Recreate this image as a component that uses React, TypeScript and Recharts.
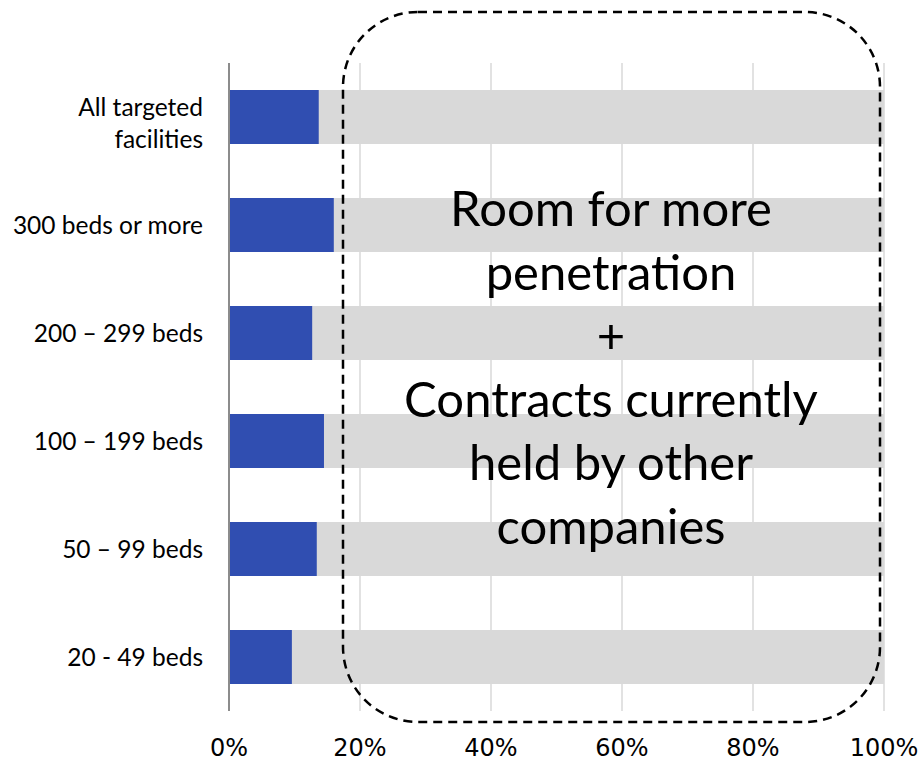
import React from 'react';
import { BarChart, Bar, XAxis, YAxis, CartesianGrid } from 'recharts';

// categories top to bottom, share in percent
const categories = [
  'All targeted\nfacilities',
  '300 beds or more',
  '200 – 299 beds',
  '100 – 199 beds',
  '50 – 99 beds',
  '20 - 49 beds',
];
const shares = [13.7, 16.0, 12.7, 14.5, 13.4, 9.6];
const xTicks = [0, 20, 40, 60, 80, 100];
const noteLines = [
  'Room for more',
  'penetration',
  '+',
  'Contracts currently',
  'held by other',
  'companies',
];

const data = categories.map((name, i) => ({ name, share: shares[i] }));

const CategoryTick = (props: any) => {
  const { x, y, payload } = props;
  const lines = String(payload.value).split('\n');
  const lh = 31.6;
  const start = -((lines.length - 1) * lh) / 2 + (lines.length > 1 ? 6 : 0);
  return (
    <text x={x} y={y} textAnchor="end" fontFamily="Lato" fontSize={24.5} fill="#000">
      {lines.map((l, i) => (
        <tspan key={i} x={x} y={y + start + i * lh} dy="0.36em">
          {l}
        </tspan>
      ))}
    </text>
  );
};

export default function App() {
  return (
    <div style={{ position: 'absolute', left: 0, top: 0, width: 924, height: 761, overflow: 'hidden' }}>
      <BarChart
        width={924}
        height={770}
        data={data}
        layout="vertical"
        margin={{ top: 63, right: 40, left: 0, bottom: 9 }}
      >
        <CartesianGrid horizontal={false} stroke="#d9d9d9" strokeWidth={1.5} />
        <XAxis
          type="number"
          domain={[0, 100]}
          ticks={xTicks}
          tickFormatter={(v) => `${v}%`}
          axisLine={false}
          tickLine={false}
          tickSize={0}
          tickMargin={28}
          height={50}
          tick={{ fill: '#000', fontSize: 24, fontFamily: 'DejaVu Sans' }}
          interval={0}
        />
        <YAxis
          type="category"
          dataKey="name"
          width={229}
          tickLine={false}
          tickSize={0}
          tickMargin={26}
          axisLine={{ stroke: '#8c8c8c', strokeWidth: 2 }}
          tick={<CategoryTick />}
          interval={0}
        />
        <Bar
          dataKey="share"
          fill="#304eb1"
          barSize={54}
          background={{ fill: '#d9d9d9' }}
          isAnimationActive={false}
        />
      </BarChart>
      <svg
        width={924}
        height={761}
        style={{ position: 'absolute', left: 0, top: 0, pointerEvents: 'none' }}
      >
        <rect
          x={343}
          y={12}
          width={537}
          height={710}
          rx={75}
          ry={75}
          fill="none"
          stroke="#000"
          strokeWidth={2.5}
          strokeDasharray="9 6"
        />
        <text x={611} textAnchor="middle" fontFamily="Lato" fontSize={49} fill="#000">
          {noteLines.map((l, i) => (
            <tspan key={i} x={611} y={226 + i * 63.6}>
              {l}
            </tspan>
          ))}
        </text>
      </svg>
    </div>
  );
}
